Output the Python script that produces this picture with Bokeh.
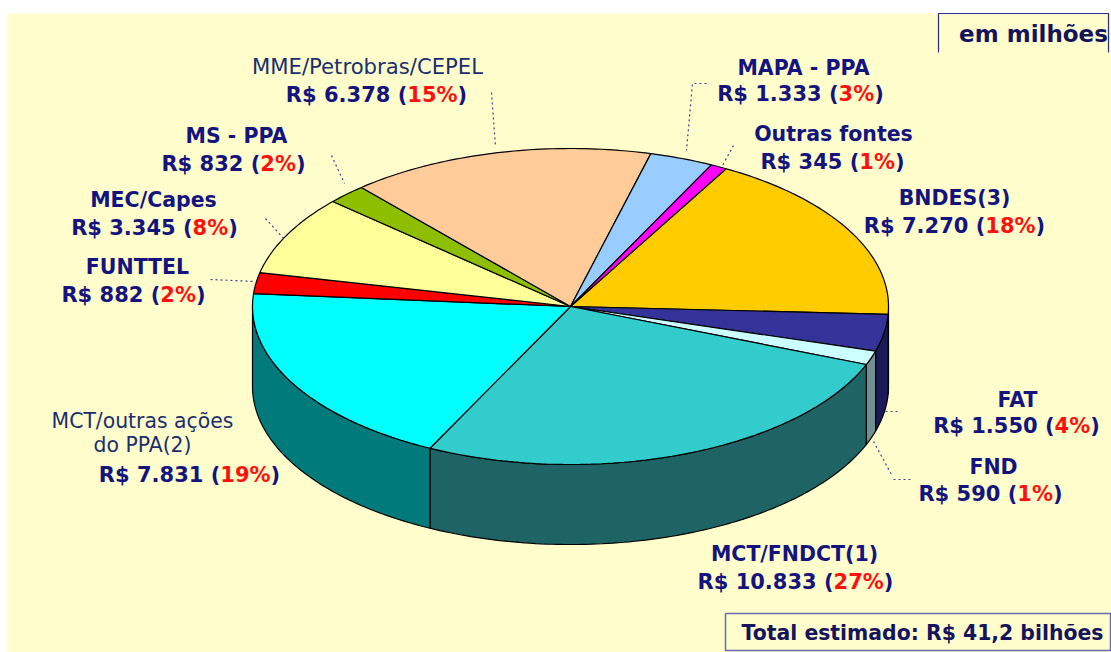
import math
from bokeh.plotting import figure
from bokeh.models import Range1d, ColumnDataSource
from bokeh.core.properties import value
from bokeh.embed import file_html
from bokeh.resources import INLINE

# ---- data ----
names = ["BNDES(3)", "FAT", "FND", "MCT/FNDCT(1)", "MCT/outras ações|do PPA(2)", "FUNTTEL",
         "MEC/Capes", "MS - PPA", "MME/Petrobras/CEPEL", "MAPA - PPA", "Outras fontes"]
amounts = [7270, 1550, 590, 10833, 7831, 882, 3345, 832, 6378, 1333, 345]
percents = [18, 4, 1, 27, 19, 2, 8, 2, 15, 3, 1]
total_label = "Total estimado: R$ 41,2 bilhões"
unit_label = "em milhões"

# ---- style ----
top_colors = ["#FFCC00", "#333399", "#CCFFFF", "#33CCCC", "#00FFFF", "#FF0000",
              "#FFFF99", "#8DBE00", "#FFCC99", "#99CCFF", "#FF00FF"]
wall_colors = ["#806600", "#1A1A59", "#6F9090", "#1E6464", "#007A7A", "#800000",
               "#808050", "#4D6600", "#806650", "#506680", "#800080"]
BG = "#FFFDCC"
NAVY = "#14147E"
SOFT_NAVY = "#1A2F70"
RED = "#FF1010"

# ---- layout (page pixels) ----
CX, CY, RX, RY, DEPTH = 570, 306, 318, 158, 80
START = 60.7
FS = 20.5
FS_VAL = 21.0
light_sizes = {"MME/Petrobras/CEPEL": 21.2, "MCT/outras ações": 20.4, "do PPA(2)": 20.4}
name_pos = {
    "BNDES(3)": [(954, 197)], "FAT": [(1017, 399)], "FND": [(993, 466)],
    "MCT/FNDCT(1)": [(794, 553)], "MCT/outras ações|do PPA(2)": [(142, 420), (142, 444)],
    "FUNTTEL": [(137, 266)], "MEC/Capes": [(153, 199)], "MS - PPA": [(236, 135)],
    "MME/Petrobras/CEPEL": [(367, 66)], "MAPA - PPA": [(803, 67)], "Outras fontes": [(833, 133)],
}
value_pos = [(954, 225), (1016, 425), (990, 493), (795, 581), (189, 474), (133, 294),
             (154, 227), (233, 163), (376, 94), (800, 93), (832, 161)]
leaders = [
    ([491, 495], [92, 146]), ([331, 344], [155, 183]), ([265, 285], [218, 240]),
    ([210, 255], [279, 281]), ([706, 692, 686], [83, 83, 150]), ([733, 722], [145, 165]),
    ([885, 897], [411, 411]), ([873, 891], [441, 474]), ([893, 912], [479, 479]),
]

BOLD_W = {"R": .770, "$": .696, " ": .348, ".": .380, "(": .457, ")": .457, "%": 1.002}
def tw(s):
    return sum(BOLD_W.get(c, .696) for c in s) * FS_VAL

p = figure(width=1111, height=652, x_range=Range1d(0, 1111), y_range=Range1d(652, 0),
           output_backend="svg", toolbar_location=None, min_border=0,
           outline_line_color=None, background_fill_color="white", border_fill_color="white")
p.axis.visible = False
p.grid.visible = False

p.quad(left=[7], right=[1111], top=[13], bottom=[652], fill_color=BG, line_color=None)

def ell(a, depth=0):
    r = math.radians(a)
    return CX + RX * math.cos(r), CY - RY * math.sin(r) + depth

def arc(a0, a1, depth=0):
    n = max(2, int(abs(a1 - a0)) + 2)
    pts = [ell(a0 + (a1 - a0) * i / (n - 1), depth) for i in range(n)]
    return [q[0] for q in pts], [q[1] for q in pts]

tot = sum(amounts)
edges = [START]
for v in amounts:
    edges.append(edges[-1] - 360 * v / tot)

wx, wy, wc = [], [], []
tx, ty = [], []
for i in range(len(amounts)):
    a0, a1 = edges[i], edges[i + 1]
    ax, ay = arc(a0, a1)
    tx.append([CX] + ax + [CX])
    ty.append([CY] + ay + [CY])
    lo, hi = max(a1, -180), min(a0, 0)
    if hi > lo:
        x0, y0 = arc(hi, lo)
        x1, y1 = arc(lo, hi, DEPTH)
        wx.append(x0 + x1)
        wy.append(y0 + y1)
        wc.append(wall_colors[i])

p.patches(wx, wy, fill_color=wc, line_color="black", line_width=1.2)
p.patches(tx, ty, fill_color=top_colors, line_color="black", line_width=1.2)

for lx, ly in leaders:
    p.line(lx, ly, line_color="#34458C", line_width=1.2, line_dash="2 3")

# names
for nm, poss in name_pos.items():
    for part, (x, y) in zip(nm.split("|"), poss):
        plain = part in light_sizes
        p.text([x], [y], text=[part], text_align="center", text_baseline="middle",
               text_color=SOFT_NAVY if plain else NAVY,
               text_font=value("DejaVu Sans"),
               text_font_size=value(f"{light_sizes[part]}px" if plain else f"{FS}px"),
               text_font_style="normal" if plain else "bold")

# value lines: navy, red percentage, navy bracket
xs, ys, txt, col = [], [], [], []
for v, pc, (cx, y) in zip(amounts, percents, value_pos):
    a = "R$ " + f"{v:,}".replace(",", ".") + " ("
    b = f"{pc}%"
    c = ")"
    x = cx - tw(a + b + c) / 2
    for piece, colr in ((a, NAVY), (b, RED), (c, NAVY)):
        xs.append(x); ys.append(y); txt.append(piece); col.append(colr)
        x += tw(piece)
src = ColumnDataSource(dict(x=xs, y=ys, t=txt, c=col))
p.text("x", "y", text="t", text_color="c", source=src, text_align="left", text_baseline="middle",
       text_font=value("DejaVu Sans"), text_font_size=value(f"{FS_VAL}px"), text_font_style="bold")

# unit tab
p.line([938, 938, 1108, 1108], [52, 13, 13, 52], line_color="#2A2A90", line_width=1.2)
p.text([1033], [33], text=[unit_label], text_align="center", text_baseline="middle",
       text_color="#14145E", text_font=value("DejaVu Sans"), text_font_size=value("23px"),
       text_font_style="bold")

# total box
p.line([725, 1110, 1110, 725, 725], [613, 613, 650, 650, 613], line_color="#6A6AAE", line_width=1.5)
p.text([922], [632], text=[total_label], text_align="center", text_baseline="middle",
       text_color="#14145E", text_font=value("DejaVu Sans"), text_font_size=value("20.4px"),
       text_font_style="bold")

open("out.html", "w").write(file_html(p, INLINE))
